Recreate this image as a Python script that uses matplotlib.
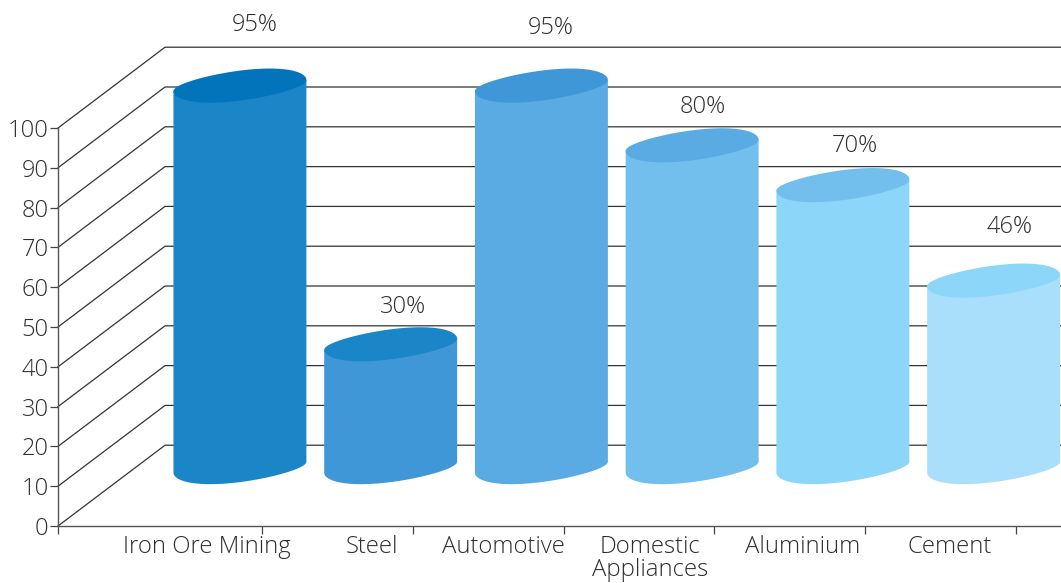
import numpy as np
from matplotlib import pyplot as plt

categories = ['Iron Ore Mining', 'Steel', 'Automotive', 'Domestic\nAppliances', 'Aluminium', 'Cement']
values = [95, 30, 95, 80, 70, 46]
value_labels = ['95%', '30%', '95%', '80%', '70%', '46%']
y_ticks = [0, 10, 20, 30, 40, 50, 60, 70, 80, 90, 100]

body_colors = ['#1a86c8', '#3f97d8', '#5aabe3', '#72beed', '#8bd6f9', '#aadffc']
top_colors = ['#0274bc', '#1a86c8', '#3f97d8', '#5aabe3', '#72beed', '#8bd6f9']

# label nudges, in pixels
name_shift = [20, 34, 15, 11, 13, 9]
value_shift = [(15, 61), (12, 37), (9, 58), (11, 38), (12, 39), (16, 54)]

plt.rcParams['font.family'] = ['Open Sans', 'DejaVu Sans']
text_color = '#2e2e2e'

fig = plt.figure(figsize=(10.61, 5.83), dpi=100)
ax = fig.add_axes([58 / 1061, 1 - 526 / 583, 1003 / 1061, 398 / 583])

x_min, x_max = -0.854, 5.80
ax.set_xlim(x_min, x_max)
ax.set_ylim(0, 100)

# fake 3d depth of the walls
depth_x = 0.71
depth_y = 20.3
for v in y_ticks:
    ax.plot([x_min, x_min + depth_x, x_max], [v, v + depth_y, v + depth_y],
            color='#333333', lw=0.9, clip_on=False, zorder=1)

# cylinders
half_w = 0.441
shear = 1.38
squash = 3.77
base_lift = 14.8
top_lift = 15.65


def rim_y(t):
    # slanted ellipse, fuller on the upper right and the lower left
    return shear * np.cos(t) + squash * (np.sin(t) + 0.2 * np.cos(t) * np.abs(np.sin(t)))


t = np.linspace(0, 2 * np.pi, 200)
lower = np.linspace(np.pi, 2 * np.pi, 100)
for i, v in enumerate(values):
    cx = i + 0.353
    top = top_lift + v
    # body: down the left edge, along the bottom curve, up the right edge
    bx = cx + half_w * np.cos(lower)
    by = base_lift + rim_y(lower)
    ax.fill(np.r_[cx - half_w, bx, cx + half_w],
            np.r_[top - shear, by, top + shear],
            color=body_colors[i], lw=0, clip_on=False, zorder=3)
    ax.fill(cx + half_w * np.cos(t), top + rim_y(t),
            color=top_colors[i], lw=0, clip_on=False, zorder=4)
    ax.annotate(value_labels[i], (cx, top), xytext=value_shift[i], textcoords='offset pixels',
                ha='center', va='center', fontsize=17, fontweight='light', color=text_color,
                zorder=5, annotation_clip=False)

ax.spines['top'].set_visible(False)
ax.spines['right'].set_visible(False)
ax.spines['left'].set_color('#555555')
ax.spines['bottom'].set_color('#555555')
ax.spines['left'].set_linewidth(1.0)
ax.spines['bottom'].set_linewidth(1.0)

ax.set_yticks(y_ticks)
ax.set_xticks([x_min] + [i + 0.5 for i in range(len(categories))])
ax.set_xticklabels([])
ax.tick_params(axis='both', length=5.8, width=0.9, color='#444444')
ax.tick_params(axis='y', labelsize=17, labelcolor=text_color, pad=1)
for label in ax.get_yticklabels():
    label.set_fontweight('light')

for i, name in enumerate(categories):
    ax.annotate(name, (i, 0), xytext=(name_shift[i], -9), textcoords='offset pixels',
                ha='center', va='top', fontsize=17.2, fontweight='light', color=text_color,
                linespacing=0.94, annotation_clip=False)

fig.savefig('out.png', dpi=100)
plt.close(fig)
